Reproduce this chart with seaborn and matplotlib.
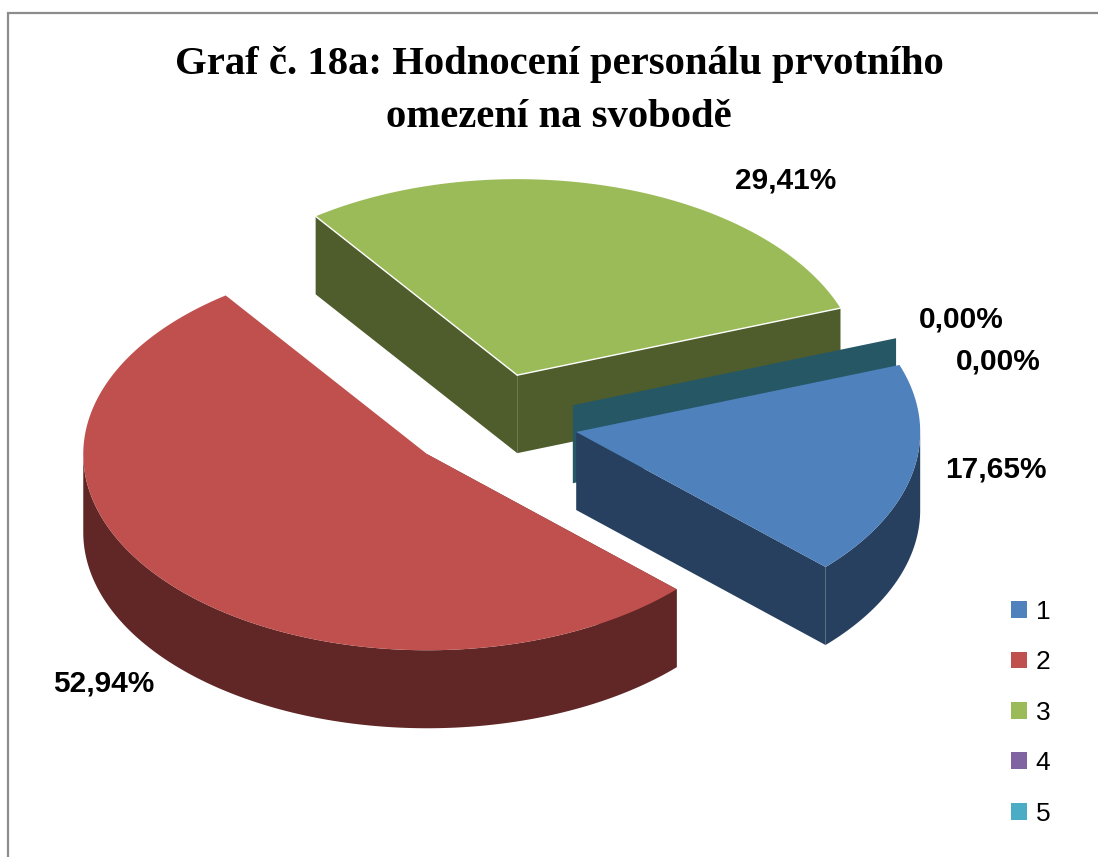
import numpy as np
import matplotlib
matplotlib.use("Agg")
import matplotlib.pyplot as plt
from matplotlib.patches import Patch
import seaborn as sns

# data
categories = ["1", "2", "3", "4", "5"]
shares = [17.65, 52.94, 29.41, 0.0, 0.0]
share_labels = ["17,65%", "52,94%", "29,41%", "0,00%", "0,00%"]
top_colors = ["#4F81BD", "#C0504D", "#9BBB59", "#8064A2", "#4BACC6"]
side_colors = ["#27405F", "#602726", "#4F5D2C", "#403151", "#255765"]
title_text = "Graf č. 18a: Hodnocení personálu prvotního\nomezení na svobodě"

# pie geometry in pixels
CX, CY = 492, 422
RX, RY = 344, 196
DEPTH = 78
EXPLODE = 0.25
START = 20.0

sns.set_theme(style="white")
sns.set_palette(top_colors)

fig = plt.figure(figsize=(10.98, 8.57), dpi=100)
ax = fig.add_axes([0, 0, 1, 1])
ax.set_xlim(0, 1098)
ax.set_ylim(857, 0)
ax.axis("off")


def rim(t1, t2, ox, oy):
    t = np.radians(np.linspace(t1, t2, 200))
    return ox + RX * np.cos(t), oy - RY * np.sin(t)


def cut_face(ox, oy, t, color, z):
    ex, ey = rim(t, t, ox, oy)
    ax.fill([ox, ex[0], ex[0], ox], [oy, ey[0], ey[0] + DEPTH, oy + DEPTH],
            color=color, lw=0, zorder=z)


def outer_wall(ox, oy, t1, t2, color, z):
    x, y = rim(t1, t2, ox, oy)
    ax.fill(np.r_[x, x[::-1]], np.r_[y, y[::-1] + DEPTH], color=color, lw=0, zorder=z)


# slices run clockwise from START
angle = START
slices = []
for value in shares:
    sweep = value / 100 * 360
    mid = np.radians(angle - sweep / 2)
    ox = CX + EXPLODE * RX * np.cos(mid)
    oy = CY - EXPLODE * RY * np.sin(mid)
    slices.append((angle, angle - sweep, ox, oy))
    angle -= sweep

# green slice, at the back
t1, t2, ox, oy = slices[2]
cut_face(ox, oy, t2, side_colors[2], 1)
cut_face(ox, oy, t1, side_colors[2], 1)
x, y = rim(t1, t2, ox, oy)
ax.fill(np.r_[ox, x], np.r_[oy, y], color=top_colors[2], lw=0, zorder=2)
rx_, ry_ = rim(t1, t1, ox, oy)
ax.plot([ox, rx_[0]], [oy, ry_[0]], color="white", lw=1.0, zorder=3)
rx_, ry_ = rim(t2, t2, ox, oy)
ax.plot([ox, rx_[0]], [oy, ry_[0]], color="white", lw=1.0, zorder=3)

# the two empty slices only show as a thin wall behind the blue one
t1, t2, ox, oy = slices[4]
cut_face(ox, oy, t1, side_colors[4], 4)

# blue slice
t1, t2, ox, oy = slices[0]
outer_wall(ox, oy, 0, t2, side_colors[0], 5)
cut_face(ox, oy, t2, side_colors[0], 5)
x, y = rim(t1, t2, ox, oy)
ax.fill(np.r_[ox, x], np.r_[oy, y], color=top_colors[0], lw=0, zorder=6)

# red slice
t1, t2, ox, oy = slices[1]
outer_wall(ox, oy, t1, -180, side_colors[1], 7)
cut_face(ox, oy, t1, side_colors[1], 7)
x, y = rim(t1, t2, ox, oy)
ax.fill(np.r_[ox, x], np.r_[oy, y], color=top_colors[1], lw=0, zorder=8)

# chart frame, runs off the right and bottom
ax.plot([8, 8, 1098], [857, 13, 13], color="#8C8C8C", lw=1.6, zorder=1,
        solid_joinstyle="miter")

ax.text(559, 91, title_text, family="Liberation Serif", weight="bold", fontsize=29.3,
        color="black", ha="center", va="center", linespacing=1.56)

label_pos = [(996, 469), (104, 684), (786, 180), (961, 320), (998, 361)]
for text, (lx, ly) in zip(share_labels, label_pos):
    ax.text(lx, ly, text, family="Liberation Sans", weight="bold", fontsize=21.5,
            color="black", ha="center", va="center", zorder=10)

handles = [Patch(facecolor=c, edgecolor="none", label=n) for c, n in zip(top_colors, categories)]
ax.legend(handles=handles, loc="upper left", bbox_to_anchor=(1011 / 1098, 1 - 600 / 857),
          frameon=False, handlelength=0.6, handleheight=0.6, handletextpad=0.34,
          labelspacing=1.0, borderpad=0, borderaxespad=0, labelcolor="black",
          prop={"family": "Liberation Sans", "size": 19})

fig.savefig("out.png", dpi=100)
